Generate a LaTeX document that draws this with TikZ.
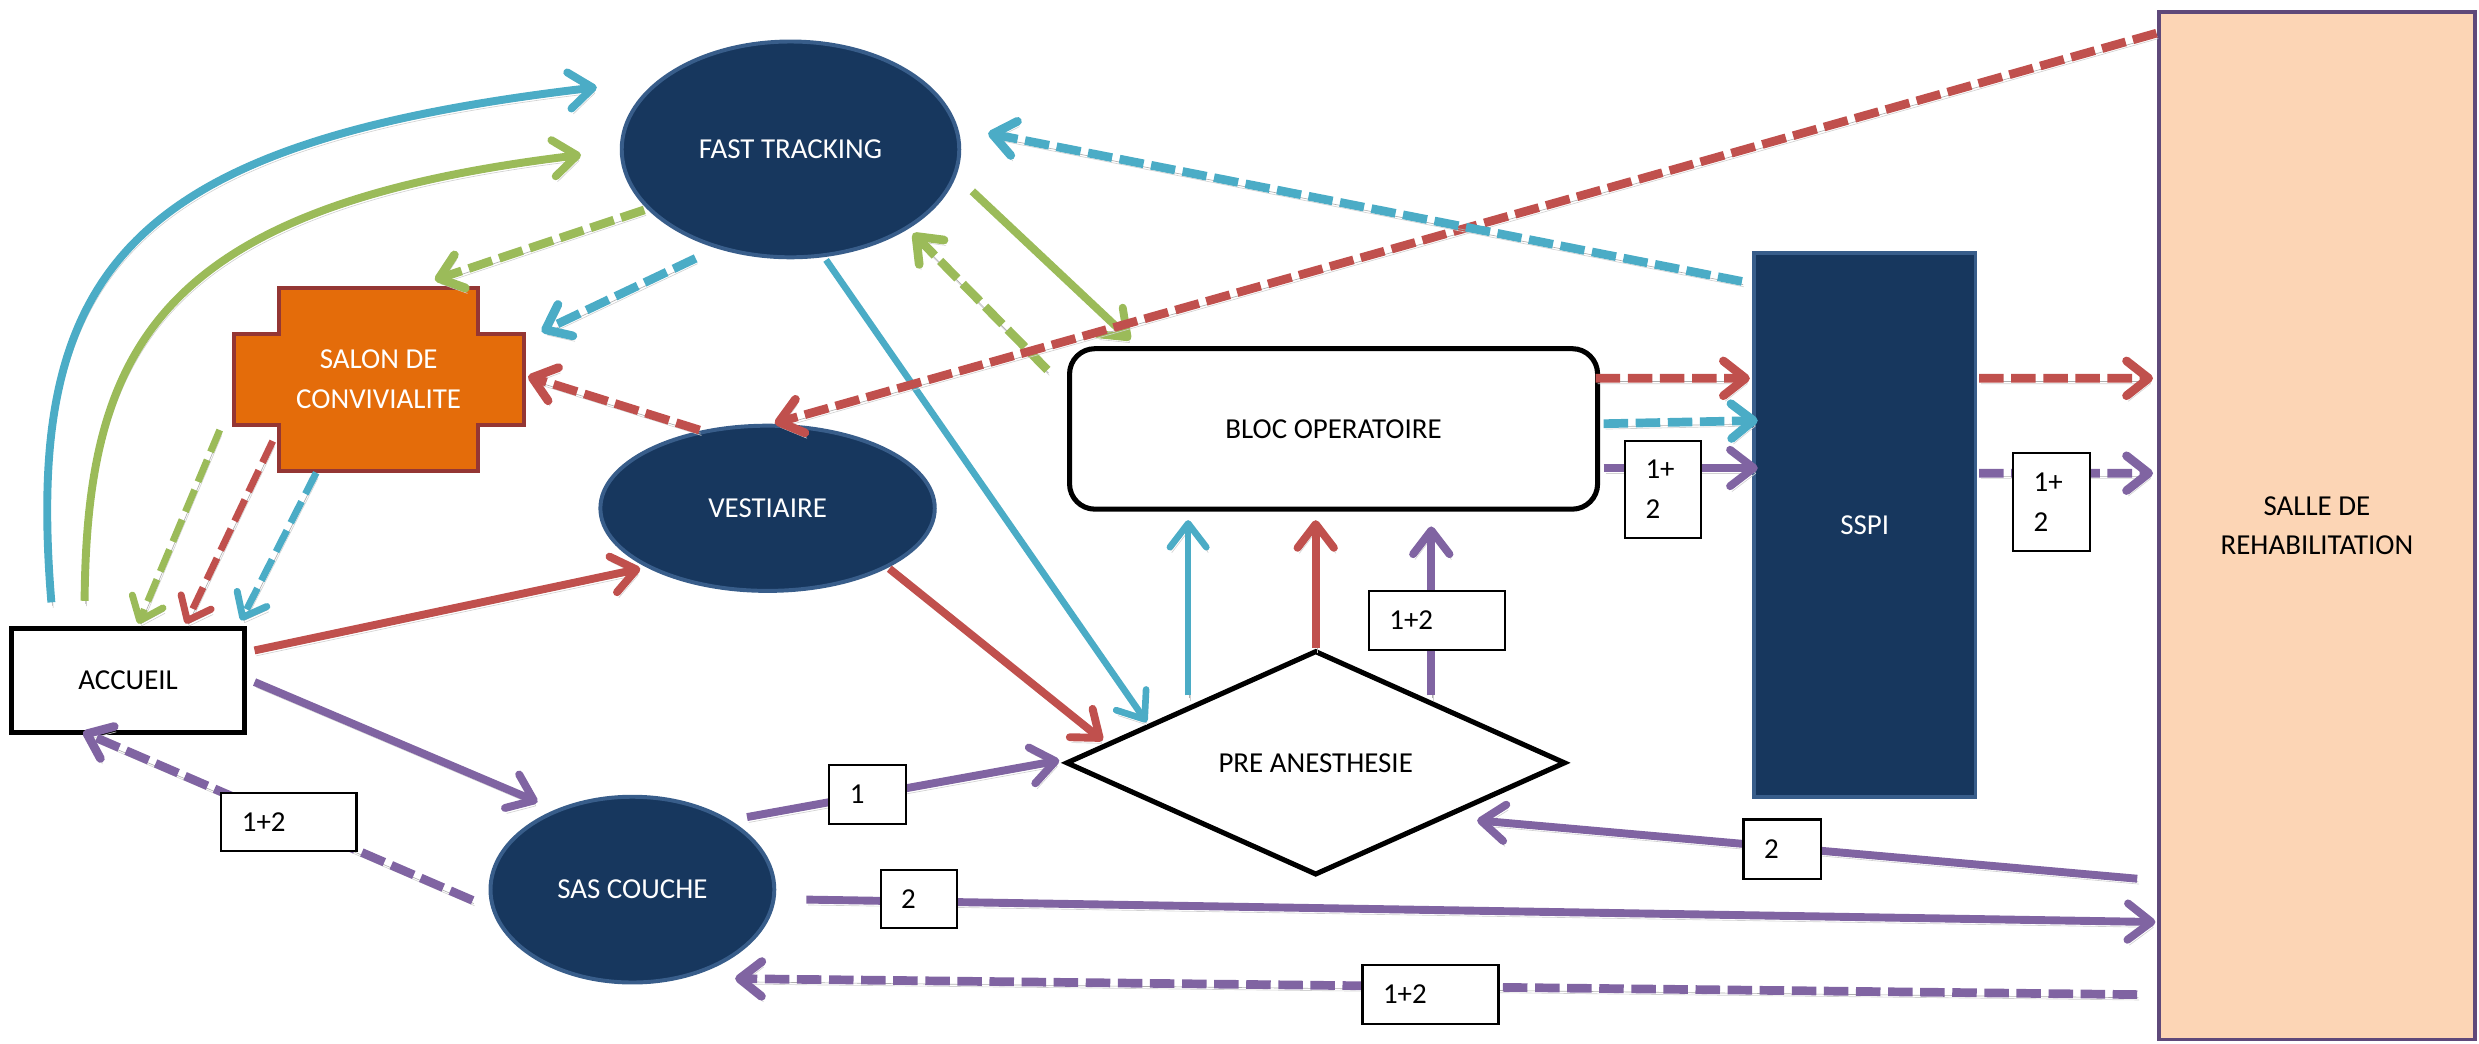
\documentclass[tikz,border=0pt]{standalone}
\usepackage{fontspec}
\setmainfont{Carlito}
\usetikzlibrary{arrows.meta,shapes.geometric,calc}
\definecolor{cblue}{HTML}{4BACC6}
\definecolor{cgreen}{HTML}{9BBB59}
\definecolor{cred}{HTML}{C0504D}
\definecolor{cpurple}{HTML}{8064A2}
\definecolor{navy}{HTML}{17375E}
\definecolor{navyedge}{HTML}{385D8A}
\definecolor{corange}{HTML}{E46C0A}
\definecolor{corangeedge}{HTML}{943634}
\definecolor{peach}{HTML}{FCD5B5}
\definecolor{peachedge}{HTML}{5F497A}
\begin{document}
\begin{tikzpicture}[x=1pt,y=-1pt,
  every node/.style={font=\fontsize{18.3}{25}\selectfont},
  darkell/.style={ellipse, fill=navy, draw=navyedge, line width=2.5pt, text=white, inner sep=0pt},
  boxnode/.style={draw, line width=3.2pt, fill=white, inner sep=0pt},
  lbl/.style 2 args={draw, line width=1.4pt, fill=white, inner xsep=13pt, inner ysep=0pt, text width=#1, minimum height=#2, align=left},
  shad/.style={preaction={draw=black!18, transform canvas={shift={(1.2pt,-3.4pt)}}},
               preaction={draw=black!32, transform canvas={shift={(0.7pt,-2pt)}}}},
  arr/.style={shad, line width=5pt, -{Straight Barb[length=15pt,width=23pt,round]}},
  thinarr/.style={arr, line width=4.2pt},
  dsh/.style={shad, line width=5.5pt, dash pattern=on 15.5pt off 4.8pt, -{Straight Barb[length=14pt,width=22pt,round]}},
  thindsh/.style={shad, line width=4.4pt, dash pattern=on 15pt off 5.5pt, -{Straight Barb[length=13pt,width=21pt,round]}},
]
\useasboundingbox (0,0) rectangle (1568,660.3);

% ---------- shapes ----------
\node[darkell, minimum width=213.5pt, minimum height=136.5pt] (fast) at (500,94.5) {FAST TRACKING};
\node[darkell, minimum width=211.5pt, minimum height=104.5pt] (vest) at (485.5,321.5) {VESTIAIRE};
\node[darkell, minimum width=179.5pt, minimum height=117.5pt] (sas) at (400,562.7) {SAS COUCHE};
\node[boxnode, minimum width=147pt, minimum height=66pt] (accueil) at (81,430.5) {ACCUEIL};
\node[boxnode, rounded corners=16pt, minimum width=334pt, minimum height=101.5pt] (bloc) at (843.5,271.3) {BLOC OPERATOIRE};
\node[diamond, draw, line width=3.2pt, fill=white, aspect=2.2, minimum width=316pt, minimum height=142pt, inner sep=0pt] (pre) at (832.2,482.5) {PRE ANESTHESIE};
\node[fill=navy, draw=navyedge, line width=2.5pt, minimum width=140pt, minimum height=344pt, text=white] (sspi) at (1179.5,331.9) {SSPI};
\node[fill=peach, draw=peachedge, line width=2.5pt, minimum width=200pt, minimum height=650pt, align=center] (salle) at (1465.5,332.5) {SALLE DE\\REHABILITATION};

\coordinate (salonc) at (239.5,240);
\draw[fill=corange, draw=corangeedge, line width=2.5pt] ($(salonc)+(-63,-57.75)$) -- ++(126,0) -- ++(0,29) -- ++(28.75,0) -- ++(0,57.5) -- ++(-28.75,0) -- ++(0,29) -- ++(-126,0) -- ++(0,-29) -- ++(-28.75,0) -- ++(0,-57.5) -- ++(28.75,0) -- cycle;
\node[minimum width=186pt, minimum height=118pt, align=center, text=white] (salon) at (salonc) {SALON DE\\CONVIVIALITE};

% ---------- connectors ----------
% curves from ACCUEIL to FAST TRACKING
\draw[arr, cblue] ($(accueil)+(-48.5,-49.5)$) .. controls +(-17.5,-211) and +(-297.5,34.8) .. ($(fast)+(-122.5,-39.3)$);
\draw[arr, cgreen] ($(accueil)+(-27.5,-50.5)$) .. controls +(1.5,-160) and +(-267.5,32) .. ($(fast)+(-132.5,3.5)$);

% FAST TRACKING -> SALON
\draw[dsh, cgreen] ($(fast)+(-92.5,38.3)$) -- ($(salon)+(35.5,-63)$);
\draw[dsh, cblue] ($(fast)+(-60,68.9)$) -- ($(salon)+(103,-30.3)$);
% VESTIAIRE -> SALON
\draw[dsh, cred] ($(vest)+(-43,-49.5)$) -- ($(salon)+(94.5,-2)$);
% BLOC -> FAST (green dashed), FAST -> BLOC (green solid)
\draw[dsh, cgreen] ($(bloc)+(-181,-37.3)$) -- ($(fast)+(77.5,53.1)$);
\draw[arr, cgreen] ($(fast)+(115,26.5)$) -- ($(bloc)+(-128.5,-56.3)$);
% FAST -> PRE
\draw[thinarr, cblue] ($(fast)+(22.5,69.9)$) -- ($(pre)+(-107,-25.8)$);
% SALLE -> VESTIAIRE (long red dashed)
\draw[dsh, cred] ($(salle)+(-101.5,-311.5)$) -- ($(vest)+(4.5,-53.8)$);
% SSPI -> FAST
\draw[dsh, cblue] ($(sspi)+(-77.7,-153.9)$) -- ($(fast)+(125,-10.2)$);
% BLOC -> SSPI
\draw[dsh, cred] ($(bloc)+(165.8,-32)$) -- ($(sspi)+(-72.7,-92.6)$);
\draw[dsh, cblue] ($(bloc)+(170.8,-3.3)$) -- ($(sspi)+(-67.7,-65.9)$);
\draw[arr, cpurple] ($(bloc)+(170.8,24.7)$) -- ($(sspi)+(-67.7,-35.9)$);
% SSPI -> SALLE
\draw[dsh, cred] ($(sspi)+(72.3,-92.6)$) -- ($(salle)+(-103.7,-93.2)$);
\draw[dsh, cpurple] ($(sspi)+(72.3,-32.6)$) -- ($(salle)+(-103.7,-33.2)$);
% PRE -> BLOC
\draw[thinarr, cblue] ($(pre)+(-80.7,-42.7)$) -- ($(bloc)+(-92,57.7)$);
\draw[arr, cred] (pre.north) -- ($(bloc)+(-11.3,57.7)$);
\draw[arr, cpurple] ($(pre)+(73.1,-42.7)$) -- ($(bloc)+(61.8,61.7)$);
% ACCUEIL -> VESTIAIRE -> PRE
\draw[arr, cred] ($(accueil)+(80,-19.1)$) -- ($(vest)+(-80.5,38.2)$);
\draw[arr, cred] ($(vest)+(77,38.2)$) -- ($(pre)+(-134.7,-14.2)$);
% ACCUEIL -> SAS COUCHE
\draw[arr, cpurple] ($(accueil)+(80,0.9)$) -- ($(sas)+(-60,-55.4)$);
% SAS COUCHE -> ACCUEIL
\draw[dsh, cpurple] ($(sas)+(-101,6.8)$) -- ($(accueil)+(-28.5,32.5)$);
% SAS COUCHE -> PRE
\draw[arr, cpurple] ($(sas)+(72.5,-45.9)$) -- ($(pre)+(-162.2,-1.5)$);
% SAS COUCHE -> SALLE
\draw[arr, cpurple] ($(sas)+(110,6.3)$) -- ($(salle)+(-102.2,250.7)$);
% SALLE -> PRE
\draw[arr, cpurple] ($(salle)+(-113.7,223.3)$) -- ($(pre)+(102.1,36.4)$);
% SALLE -> SAS COUCHE
\draw[dsh, cpurple] ($(salle)+(-113.7,296.6)$) -- ($(sas)+(65,56.3)$);
% SALON -> ACCUEIL
\draw[thindsh, cgreen] ($(salon)+(-100.5,32)$) -- ($(accueil)+(6.5,-36)$);
\draw[thindsh, cred] ($(salon)+(-67,39)$) -- ($(accueil)+(36.5,-36)$);
\draw[thindsh, cblue] ($(salon)+(-39.5,59)$) -- ($(accueil)+(71.5,-38.1)$);

% ---------- labels ----------
\node[lbl={59.5pt}{37pt}] (l1) at (182.75,519.85) {1+2};
\node[lbl={22.5pt}{37pt}] (l2) at (548.75,502.55) {1};
\node[lbl={22.5pt}{37pt}] (l3) at (581.25,568.55) {2};
\node[lbl={60pt}{37pt}] (l4) at (908.8,392.5) {1+2};
\node[lbl={22pt}{61.4pt}] (l5) at (1051.8,309.4) {1+\\2};
\node[lbl={22.5pt}{61.8pt}] (l6) at (1297.55,317.6) {1+\\2};
\node[lbl={23pt}{37.4pt}] (l7) at (1127.3,537.1) {2};
\node[lbl={60pt}{37pt}] (l8) at (904.8,629.05) {1+2};
\end{tikzpicture}
\end{document}
